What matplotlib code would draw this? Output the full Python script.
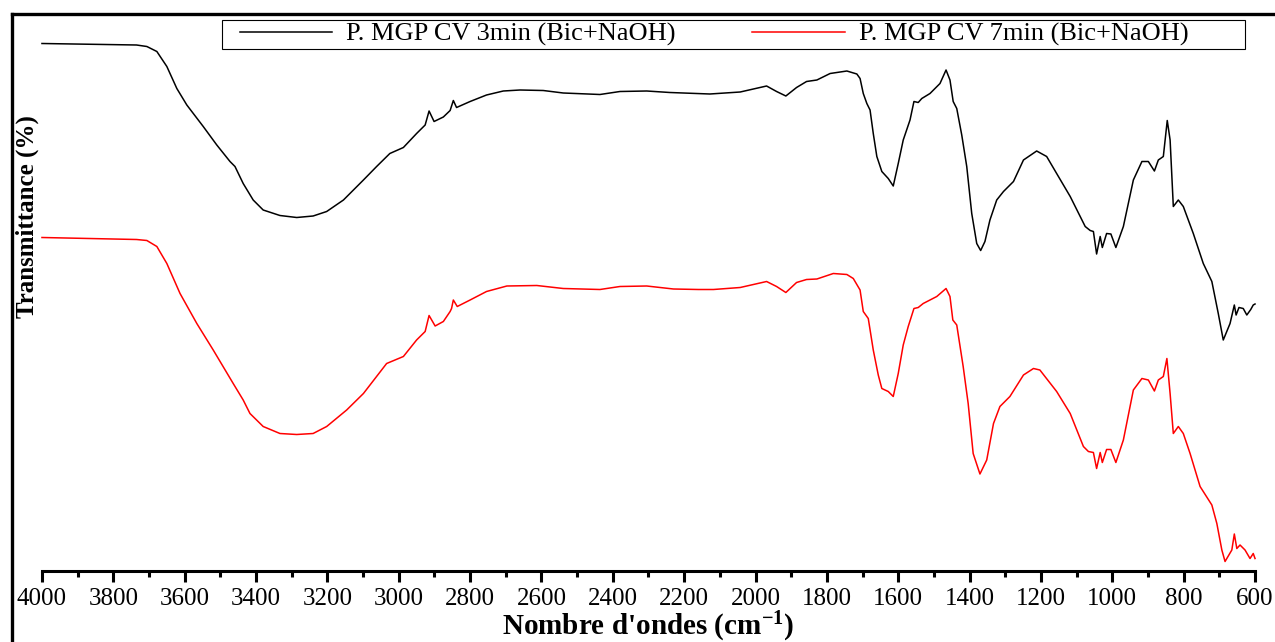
import numpy as np
import matplotlib
matplotlib.use("Agg")
import matplotlib.pyplot as plt
from matplotlib.patches import Rectangle
from matplotlib.ticker import MultipleLocator

# FTIR spectra, wavenumber (cm-1) and transmittance (stacked, arbitrary offset)
wn_3min = [4000, 3735, 3706, 3678, 3650, 3622, 3594, 3548, 3510, 3473, 3459,
           3436, 3408, 3380, 3333, 3286, 3240, 3202, 3155, 3099, 3062, 3025,
           2987, 2950, 2926, 2915, 2901, 2875, 2856, 2847, 2838, 2800, 2754,
           2707, 2660, 2595, 2539, 2436, 2380, 2305, 2240, 2128, 2043, 1969,
           1941, 1915, 1885, 1857, 1828, 1791, 1744, 1716, 1707, 1698, 1688,
           1679, 1670, 1660, 1646, 1628, 1614, 1600, 1586, 1567, 1556, 1544,
           1534, 1511, 1483, 1466, 1455, 1446, 1436, 1422, 1408, 1394, 1380,
           1369, 1357, 1343, 1324, 1305, 1277, 1249, 1212, 1184, 1156, 1118,
           1076, 1062, 1053, 1044, 1034, 1028, 1016, 1004, 990, 969, 941, 917,
           899, 882, 871, 857, 846, 838, 829, 815, 801, 773, 745, 721, 703,
           689, 670, 658, 653, 645, 633, 623, 612, 605, 600]
t_3min = [119.7, 119.4, 119.1, 118.1, 115.1, 110.7, 107.4, 103.1, 99.4, 96.1,
          95.1, 91.7, 88.4, 86.4, 85.3, 84.9, 85.2, 86.1, 88.4, 92.4, 95.1,
          97.7, 98.9, 101.7, 103.4, 106.2, 104.1, 105.0, 106.3, 108.3, 106.9,
          108.1, 109.4, 110.2, 110.4, 110.3, 109.8, 109.5, 110.1, 110.2, 109.9,
          109.6, 110.0, 111.2, 110.1, 109.2, 110.9, 112.1, 112.4, 113.7, 114.2,
          113.6, 112.7, 109.7, 107.7, 106.4, 101.7, 97.1, 94.1, 92.7, 91.2,
          95.7, 100.4, 104.4, 108.1, 107.9, 108.7, 109.7, 111.7, 114.4, 112.4,
          108.1, 106.7, 101.4, 95.1, 85.7, 79.7, 78.3, 80.1, 84.4, 88.4, 90.1,
          92.1, 96.4, 98.2, 97.1, 93.7, 89.1, 83.1, 82.3, 82.1, 77.6, 81.1,
          78.9, 81.7, 81.6, 78.9, 83.1, 92.4, 96.1, 96.1, 94.2, 96.4, 97.1,
          104.3, 100.4, 87.1, 88.4, 87.1, 81.7, 75.7, 72.1, 65.7, 60.4, 63.7,
          67.4, 65.4, 66.9, 66.7, 65.4, 66.5, 67.4, 67.6]

wn_7min = [4000, 3735, 3706, 3678, 3650, 3613, 3566, 3520, 3464, 3436, 3417,
           3380, 3333, 3286, 3240, 3202, 3146, 3099, 3034, 2987, 2950, 2926,
           2915, 2898, 2875, 2856, 2852, 2847, 2836, 2800, 2754, 2697, 2613,
           2539, 2436, 2380, 2305, 2230, 2160, 2118, 2043, 1969, 1941, 1915,
           1885, 1857, 1828, 1782, 1744, 1726, 1707, 1698, 1684, 1670, 1656,
           1646, 1628, 1614, 1600, 1586, 1572, 1556, 1544, 1530, 1492, 1466,
           1455, 1447, 1436, 1418, 1404, 1390, 1371, 1352, 1333, 1315, 1287,
           1249, 1221, 1203, 1156, 1118, 1081, 1067, 1053, 1044, 1034, 1028,
           1016, 1004, 990, 969, 941, 917, 899, 882, 871, 857, 847, 838, 829,
           815, 801, 782, 754, 721, 707, 693, 684, 665, 658, 651, 642, 628,
           614, 605, 600]
t_7min = [80.9, 80.5, 80.3, 79.1, 75.7, 69.7, 63.7, 58.4, 51.7, 48.4, 45.7,
          43.1, 41.7, 41.5, 41.7, 43.1, 46.4, 49.7, 55.7, 57.1, 60.4, 62.1,
          65.3, 63.2, 64.1, 66.1, 66.7, 68.4, 67.1, 68.4, 70.1, 71.2, 71.3,
          70.7, 70.5, 71.1, 71.2, 70.6, 70.5, 70.5, 70.9, 72.1, 71.1, 69.9,
          71.9, 72.5, 72.6, 73.7, 73.5, 72.7, 70.4, 66.1, 64.7, 58.4, 53.4,
          50.7, 50.1, 49.1, 53.7, 59.4, 63.1, 66.7, 66.9, 67.7, 69.1, 70.7,
          69.1, 64.4, 63.4, 55.1, 47.7, 37.7, 33.6, 36.4, 43.7, 47.1, 49.1,
          53.4, 54.7, 54.4, 50.1, 45.7, 39.1, 38.1, 37.9, 34.7, 37.9, 35.9,
          38.5, 38.5, 35.9, 40.4, 50.4, 52.7, 52.4, 50.2, 52.4, 53.1, 56.7,
          49.7, 41.7, 43.1, 41.7, 37.7, 31.1, 27.4, 23.7, 18.4, 16.1, 18.4,
          21.6, 18.7, 19.4, 18.4, 16.7, 17.7, 16.7]

labels = ["P. MGP CV 3min (Bic+NaOH)", "P. MGP CV 7min (Bic+NaOH)"]

plt.rcParams["font.family"] = "Liberation Serif"
plt.rcParams["mathtext.fontset"] = "custom"
plt.rcParams["mathtext.rm"] = "Liberation Serif"
plt.rcParams["mathtext.bf"] = "Liberation Serif:bold"
plt.rcParams["mathtext.default"] = "regular"

W, H = 1275, 642
fig = plt.figure(figsize=(W / 100, H / 100), dpi=100)
ax = fig.add_axes([12 / W, 0, 1263 / W, 628 / H])

ax.plot(wn_3min, t_3min, color="black", lw=1.1, label=labels[0])
ax.plot(wn_7min, t_7min, color="red", lw=1.1, label=labels[1])

ax.set_xlim(4084, 544)
ax.set_ylim(0, 125.6)

# frame: thick left/top, floating x axis only under the data range
for side in ("left", "top"):
    ax.spines[side].set_linewidth(2.4)
ax.spines["right"].set_visible(False)
ax.spines["bottom"].set_position(("data", 14.2))
ax.spines["bottom"].set_bounds(600, 4000)
ax.spines["bottom"].set_linewidth(2.2)

ax.xaxis.set_major_locator(MultipleLocator(200))
ax.xaxis.set_minor_locator(MultipleLocator(100))
ax.tick_params(axis="x", which="major", direction="out", length=8, width=2.2,
               labelsize=18, pad=4)
ax.tick_params(axis="x", which="minor", direction="out", length=4, width=2.2)
ax.set_yticks([])

fig.text(648 / W, 1 - 627 / H, "Nombre d'ondes (cm$^{-1}$)",
         ha="center", va="center", fontsize=21, fontweight="bold")
fig.text(27 / W, 1 - 217 / H, "Transmittance (%)", rotation=90,
         ha="center", va="center", fontsize=18, fontweight="bold")

# legend box drawn on its own, entries placed inside it
fig.add_artist(Rectangle((222 / W, 1 - 49 / H), 1023 / W, 29 / H,
                         transform=fig.transFigure, facecolor="white",
                         edgecolor="black", lw=0.8, zorder=1))
handles, _ = ax.get_legend_handles_labels()
fig.legend(handles, labels, loc="center left",
           bbox_to_anchor=(240 / W, 1 - 34.5 / H), ncol=2, fontsize=19,
           frameon=False, handlelength=3.5, handletextpad=0.53,
           columnspacing=2.9, borderpad=0, borderaxespad=0)

fig.savefig("out.png", dpi=100)
